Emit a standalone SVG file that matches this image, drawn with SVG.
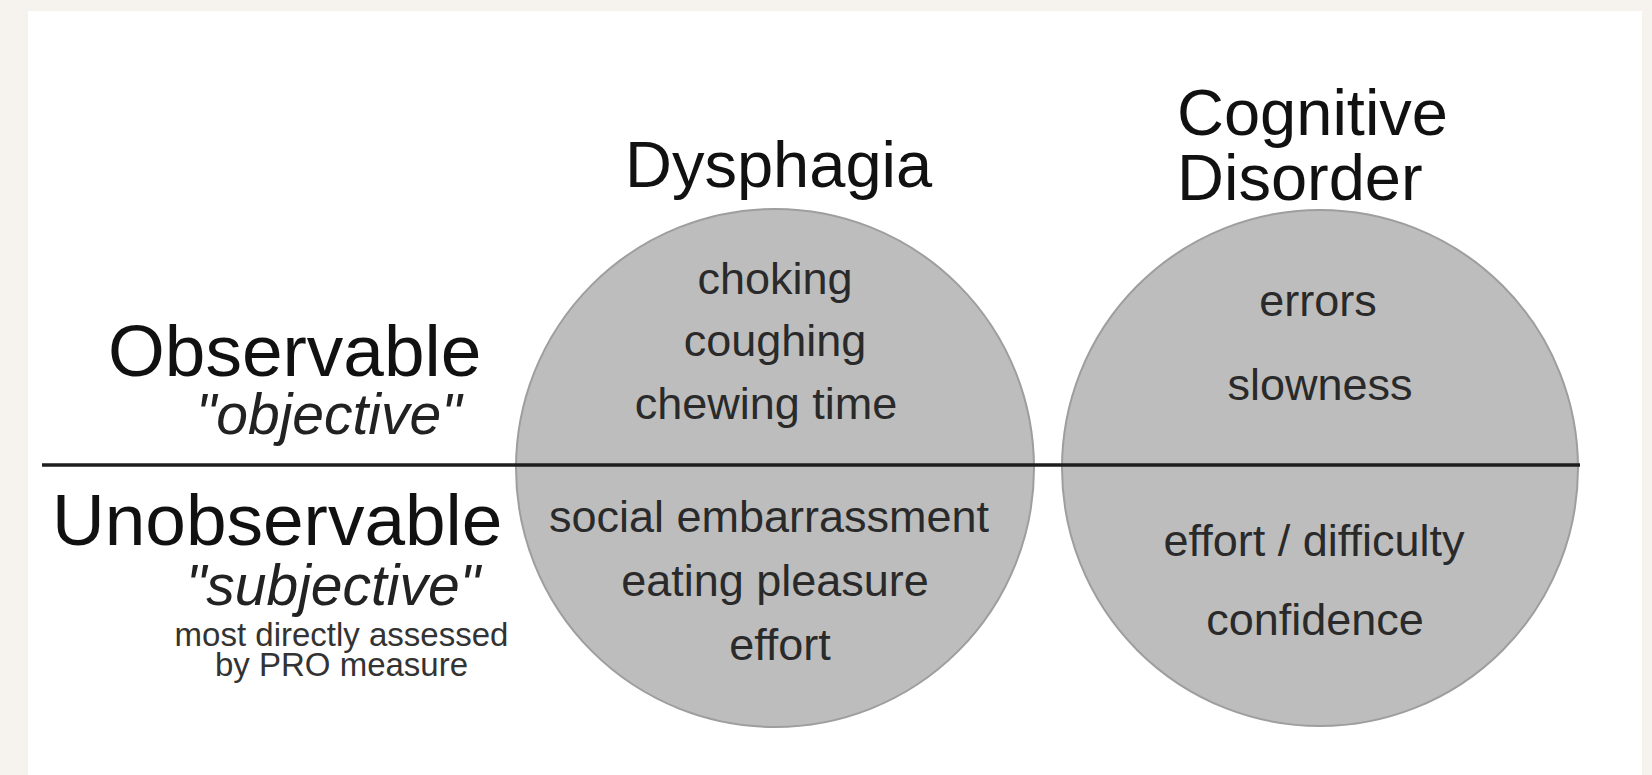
<svg xmlns="http://www.w3.org/2000/svg" width="1652" height="775" viewBox="0 0 1652 775">
<style>
.title{font-family:"Liberation Sans",Arial,sans-serif;font-size:65px;fill:#111}
.big{font-family:"Liberation Sans",Arial,sans-serif;font-size:73px;fill:#111}
.ital{font-family:"Liberation Sans",Arial,sans-serif;font-size:57px;font-style:italic;fill:#222}
.small{font-family:"Liberation Sans",Arial,sans-serif;font-size:33px;fill:#333}
.item{font-family:"Liberation Sans",Arial,sans-serif;font-size:45px;fill:#2a2a2a;text-anchor:middle}
.circ{fill:#bdbdbd;stroke:#9e9e9e;stroke-width:2}
</style>
<rect x="0" y="0" width="1652" height="775" fill="#f6f3ee"/>
<rect x="28" y="11" width="1614" height="764" fill="#ffffff"/>
<g id="labels">
<text class="big" x="108" y="376">Observable</text>
<text class="ital" x="196" y="434">"objective"</text>
<text class="big" x="52" y="545">Unobservable</text>
<text class="ital" x="186" y="605">"subjective"</text>
<text class="small" x="341.5" y="646" text-anchor="middle">most directly assessed</text>
<text class="small" x="341.5" y="676" text-anchor="middle">by PRO measure</text>
</g>
<g id="dysphagia">
<circle class="circ" cx="775" cy="468" r="259"/>
<text class="title" x="625" y="187">Dysphagia</text>
<text class="item" x="775" y="294">choking</text>
<text class="item" x="775" y="356">coughing</text>
<text class="item" x="766" y="419">chewing time</text>
<text class="item" x="769" y="532">social embarrassment</text>
<text class="item" x="775" y="596">eating pleasure</text>
<text class="item" x="780" y="660">effort</text>
</g>
<g id="cognitive">
<circle class="circ" cx="1320" cy="468" r="258"/>
<text class="title" x="1177" y="135">Cognitive</text>
<text class="title" x="1177" y="200">Disorder</text>
<text class="item" x="1318" y="316">errors</text>
<text class="item" x="1320" y="400">slowness</text>
<text class="item" x="1314" y="556">effort / difficulty</text>
<text class="item" x="1315" y="635">confidence</text>
</g>
<g id="connectors">
<line x1="42" y1="465" x2="1580" y2="465" stroke="#1e1e1e" stroke-width="3.5"/>
</g>
</svg>
